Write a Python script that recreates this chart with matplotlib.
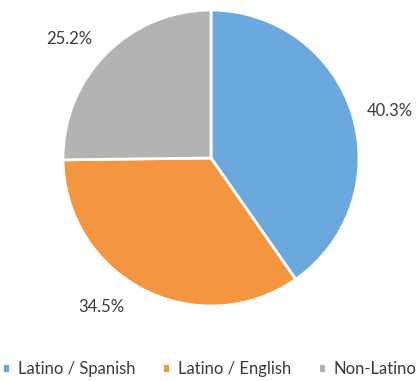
import numpy as np
import matplotlib.pyplot as plt

labels = ["Latino / Spanish", "Latino / English", "Non-Latino"]
shares = [40.3, 34.5, 25.2]
colors = ["#6aa8de", "#f4953f", "#b3b3b3"]

plt.rcParams['font.family'] = ['Lato', 'DejaVu Sans']

W, H = 418, 381
cx, cy, R = 211, H - 158, 148
fig = plt.figure(figsize=(W / 100, H / 100), dpi=100)
ax = fig.add_axes([0, 0, 1, 1])

# pixel-like coordinates, y measured from the bottom
wedges, texts, autotexts = ax.pie(
    shares, colors=colors, startangle=90, counterclock=False,
    center=(cx, cy), radius=R, frame=True,
    autopct='%.1f%%', pctdistance=1.25,
    wedgeprops=dict(edgecolor='white', linewidth=2),
    textprops=dict(fontsize=12, color='#3a3a3a'),
)

# nudge the percentage labels around the rim, best-fit style
nudge = [-2.6, -9.0, 4.6]
for w, t, d in zip(wedges, autotexts, nudge):
    ang = np.deg2rad((w.theta1 + w.theta2) / 2 + d)
    t.set_position((cx + 1.25 * R * np.cos(ang), cy + 1.25 * R * np.sin(ang)))

ax.set_xlim(0, W)
ax.set_ylim(0, H)
ax.set_aspect('equal')
ax.axis('off')

ax.legend(wedges, labels, loc='lower center', bbox_to_anchor=(0.5, -0.02),
          ncol=3, frameon=False, fontsize=12, handlelength=0.5, handleheight=0.5,
          handletextpad=0.45, columnspacing=1.6, labelcolor='#3a3a3a',
          borderpad=0.2)

fig.savefig('out.png', dpi=100)
